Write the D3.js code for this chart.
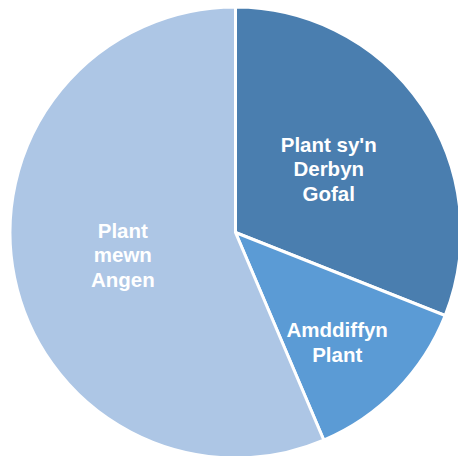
<!DOCTYPE html>
<html>
<head>
<meta charset="utf-8">
<script src="https://cdn.jsdelivr.net/npm/d3@7"></script>
<style>
  html, body { margin: 0; padding: 0; background: #ffffff; overflow: hidden; }
  svg { display: block; }
</style>
</head>
<body>
<svg id="chart" width="458" height="456"></svg>
<script>
// Data (share of children)
const categories = ["Plant sy'n Derbyn Gofal", "Amddiffyn Plant", "Plant mewn Angen"];
const labelLines = [["Plant sy'n", "Derbyn", "Gofal"], ["Amddiffyn", "Plant"], ["Plant", "mewn", "Angen"]];
const values = [31.0, 12.6, 56.4];
const colours = ["#4A7EAF", "#5B9BD5", "#ADC6E5"];
const labelRadiusFactor = [0.5, 0.665, 0.51];
const labelAngleShiftDeg = [0, 3, 0];

const svg = d3.select("#chart");
const cx = 235.5, cy = 232.5, R = 225.5;
const g = svg.append("g").attr("transform", `translate(${cx},${cy})`);

const pie = d3.pie().sort(null).value(d => d.value);
const data = categories.map((c, i) => ({ name: c, value: values[i], i }));
const arcs = pie(data);
const arc = d3.arc().innerRadius(0).outerRadius(R);

g.selectAll("path.slice")
  .data(arcs)
  .join("path")
  .attr("class", "slice")
  .attr("d", arc)
  .attr("fill", d => colours[d.data.i])
  .attr("stroke", "#ffffff")
  .attr("stroke-width", 3)
  .attr("stroke-linejoin", "miter");

const lineH = 24.5;
arcs.forEach(a => {
  const rr = R * labelRadiusFactor[a.data.i];
  const shift = labelAngleShiftDeg[a.data.i] * Math.PI / 180;
  const la = d3.arc().innerRadius(rr).outerRadius(rr);
  const [x, y] = la.centroid({ startAngle: a.startAngle + shift, endAngle: a.endAngle + shift });
  const lines = labelLines[a.data.i];
  const t = g.append("text")
    .attr("x", x)
    .attr("y", y)
    .attr("text-anchor", "middle")
    .attr("fill", "#ffffff")
    .attr("font-family", "'Liberation Sans', Arial, sans-serif")
    .attr("font-weight", "bold")
    .attr("font-size", "20.5px");
  lines.forEach((ln, k) => {
    t.append("tspan")
      .attr("x", x)
      .attr("y", y + (k - (lines.length - 1) / 2) * lineH + 7)
      .text(ln);
  });
});
</script>
</body>
</html>
